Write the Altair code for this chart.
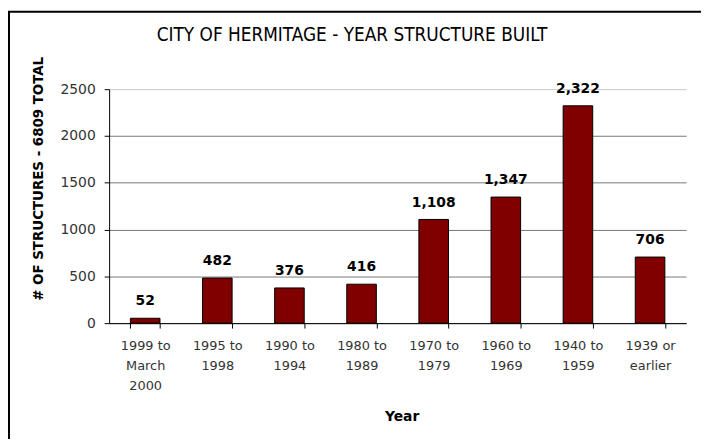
import altair as alt
import pandas as pd

categories = ["1999 to|March|2000", "1995 to|1998", "1990 to|1994", "1980 to|1989",
              "1970 to|1979", "1960 to|1969", "1940 to|1959", "1939 or|earlier"]
values = [52, 482, 376, 416, 1108, 1347, 2322, 706]
value_labels = ["52", "482", "376", "416", "1,108", "1,347", "2,322", "706"]
y_ticks = [0, 500, 1000, 1500, 2000, 2500]

title_text = "CITY OF HERMITAGE - YEAR STRUCTURE BUILT"
y_title = "# OF STRUCTURES - 6809 TOTAL"
x_title = "Year"

df = pd.DataFrame({"cat": categories, "value": values, "label": value_labels})

W, H = 582, 236
FONT = "DejaVu Sans"

x_enc = alt.X(
    "cat:N", sort=categories,
    scale=alt.Scale(paddingInner=0.59, paddingOuter=0.295),
    axis=alt.Axis(
        title=x_title, titleFont=FONT, titleFontSize=14, titleFontWeight="bold",
        titleColor="black", titleX=295, titleY=94, titleAlign="center",
        titleBaseline="middle",
        labelExpr="split(datum.label, '|')", labelAngle=0, labelFont=FONT,
        labelFontSize=13, labelColor="#333333", labelLineHeight=20,
        labelPadding=12, labelBaseline="top",
        domainColor="black", tickColor="black", tickSize=5, tickBand="extent",
        grid=False,
    ),
)
y_enc = alt.Y(
    "value:Q",
    scale=alt.Scale(domain=[0, 2500], nice=False),
    axis=alt.Axis(
        values=y_ticks, format="d", title=y_title, titleFont="DejaVu Sans Condensed",
        titleFontSize=15, titleFontWeight="bold", titleColor="black",
        titleX=-72, titleY=90, titleAngle=-90, titleAlign="center",
        titleBaseline="middle",
        labelFont=FONT, labelFontSize=14, labelColor="#333333", labelPadding=9,
        domainColor="black", tickColor="black", tickSize=5,
        grid=True, gridWidth=1,
        gridColor={"condition": {"test": "datum.value == 2500", "value": "#c8c8c8"},
                   "value": "#777777"},
    ),
)

bars = alt.Chart(df).mark_bar(color="#800000", stroke="black", strokeWidth=1).encode(
    x=x_enc, y=y_enc
)
texts = alt.Chart(df).mark_text(
    font=FONT, fontSize=14, fontWeight="bold", color="black",
    baseline="alphabetic", dy=-13
).encode(x=alt.X("cat:N", sort=categories), y="value:Q", text="label:N")

title_df = pd.DataFrame({"t": [title_text]})
title = alt.Chart(title_df).mark_text(
    font="DejaVu Sans Condensed", fontSize=19, color="black", baseline="middle",
    align="center"
).encode(x=alt.value(245), y=alt.value(-55), text="t:N")

frame = alt.Chart(title_df).mark_rect(fill=None, stroke="black", strokeWidth=2).encode(
    x=alt.value(-101), x2=alt.value(1200), y=alt.value(-78), y2=alt.value(800)
)

chart = alt.layer(frame, bars, texts, title).properties(
    width=W, height=H,
    autosize=alt.AutoSizeParams(type="none"),
    padding={"left": 102, "top": 80, "right": 15, "bottom": 115},
).configure(background="white").configure_view(stroke=None)

chart.save("out.html", embed_options={"renderer": "svg", "actions": False})
